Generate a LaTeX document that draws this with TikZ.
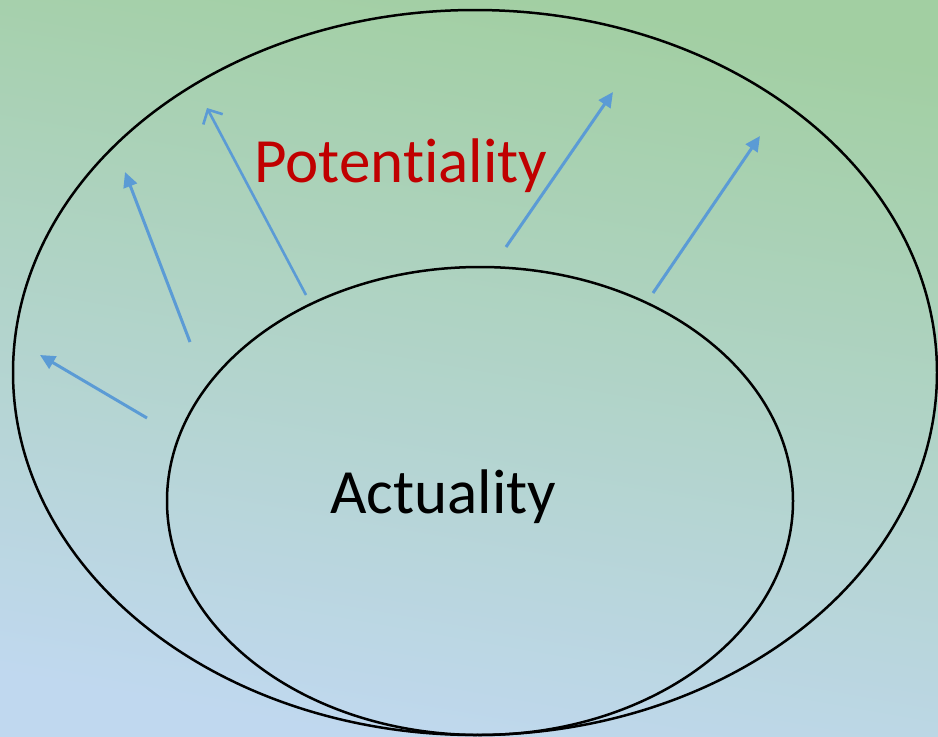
\documentclass[tikz,border=0pt]{standalone}
\usepackage{fontspec}
\setmainfont{Carlito}[Ligatures=NoCommon]
\usetikzlibrary{shapes.geometric,arrows.meta}
\definecolor{bggreen}{HTML}{A2CFA2}
\definecolor{bgblue}{HTML}{C0D8EF}
\definecolor{arrowblue}{HTML}{5B9BD5}
\definecolor{potred}{HTML}{C00000}
\tikzset{
  ring/.style={ellipse, draw=black, line width=2.5pt, inner sep=0pt},
  flow/.style={draw=arrowblue, line width=3pt, -{Triangle[length=15pt,width=14pt]}},
  openflow/.style={draw=arrowblue, line width=2.6pt, -{Straight Barb[length=11pt,width=22pt]}},
  label/.style={font=\fontsize{63}{70}\selectfont, anchor=base}
}
\begin{document}
\begin{tikzpicture}[x=1pt,y=-1pt]
  % background
  \shade[shading=axis, top color=bggreen, bottom color=bgblue, shading angle=-10]
    (0,0) rectangle (938,737);
  \useasboundingbox (0,0) rectangle (938,737);

  % the two regions
  \node[ring, minimum width=924pt, minimum height=725pt] (outer) at (475,372.5) {};
  \node[ring, minimum width=626pt, minimum height=468pt] (inner) at (480,501) {};

  % labels (the kern keeps t and i as separate letters)
  \node[label, text=potred] (pot) at (401,182) {Potent\kern0pt iality};
  \node[label, text=black] (act) at (443.5,513) {Actuality};

  % arrows from the actual toward the potential
  \coordinate (a1s) at (147,418); \coordinate (a1e) at (40,355);
  \coordinate (a2s) at (190,342); \coordinate (a2e) at (125,172);
  \coordinate (a3s) at (306,295); \coordinate (a3e) at (207,108);
  \coordinate (a4s) at (506,247); \coordinate (a4e) at (613,92);
  \coordinate (a5s) at (653,293); \coordinate (a5e) at (760,136);
  \draw[flow] (a1s) -- (a1e);
  \draw[flow] (a2s) -- (a2e);
  \draw[openflow] (a3s) -- (a3e);
  \draw[flow] (a4s) -- (a4e);
  \draw[flow] (a5s) -- (a5e);
\end{tikzpicture}
\end{document}
